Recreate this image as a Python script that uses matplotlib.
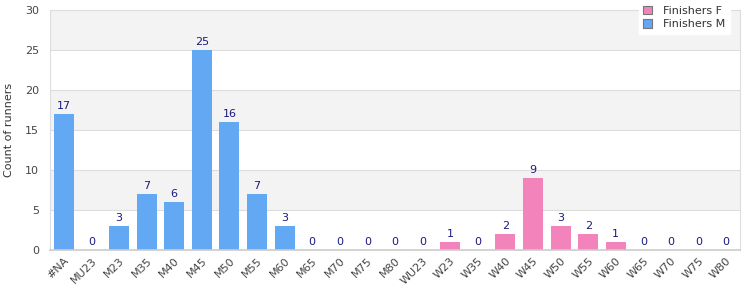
import numpy as np
import matplotlib.pyplot as plt

categories = ["#NA", "MU23", "M23", "M35", "M40", "M45", "M50", "M55", "M60",
              "M65", "M70", "M75", "M80", "WU23", "W23", "W35", "W40", "W45",
              "W50", "W55", "W60", "W65", "W70", "W75", "W80"]
finishers_m = [17, 0, 3, 7, 6, 25, 16, 7, 3, 0, 0, 0, 0, 0,
               0, 0, 0, 0, 0, 0, 0, 0, 0, 0, 0]
finishers_f = [0, 0, 0, 0, 0, 0, 0, 0, 0, 0, 0, 0, 0, 0,
               1, 0, 2, 9, 3, 2, 1, 0, 0, 0, 0]

color_m = "#62a8f3"
color_f = "#f283bb"

fig = plt.figure(figsize=(7.5, 3), dpi=100)
ax = fig.add_axes([0.0667, 0.1667, 0.92, 0.80])

x = np.arange(len(categories))
m = np.array(finishers_m)
f = np.array(finishers_f)

# alternating background bands
for lo in range(5, 30, 10):
    ax.axhspan(lo, lo + 5, color="#f3f3f3", zorder=0, lw=0)
for yv in range(5, 30, 5):
    ax.axhline(yv, color="#dddddd", lw=0.8, zorder=0.5)

ax.bar(x, m, width=0.73, color=color_m, label="Finishers M", zorder=2)
ax.bar(x, f, bottom=m, width=0.73, color=color_f, label="Finishers F", zorder=2)

totals = m + f
for xi, t in zip(x, totals):
    ax.text(xi, t + 0.4, str(t), ha="center", va="bottom", fontsize=8,
            color="#1a1a80", zorder=3)

ax.set_xlim(-0.5, len(categories) - 0.5)
ax.set_ylim(0, 30)
ax.set_yticks([0, 5, 10, 15, 20, 25, 30])
ax.set_xticks(x)
ax.set_xticklabels(categories, rotation=45, ha="right", rotation_mode="anchor",
                   fontsize=8, color="#444444")
ax.tick_params(axis="y", labelsize=8, labelcolor="#444444", length=0, pad=8)
ax.tick_params(axis="x", length=0, pad=4)
ax.set_ylabel("Count of runners", fontsize=8, color="#333333", labelpad=8)

for side in ["top", "right", "left"]:
    ax.spines[side].set_color("#dddddd")
ax.spines["bottom"].set_color("#cccccc")
ax.spines["bottom"].set_linewidth(1.2)

handles, labels = ax.get_legend_handles_labels()
leg = ax.legend(handles[::-1], labels[::-1], loc="upper right",
                bbox_to_anchor=(0.9935, 1.06), fontsize=8, frameon=True,
                fancybox=False, handlelength=0.8, handleheight=0.8,
                borderpad=0.4, labelspacing=0.3, handletextpad=1.0)
leg.get_frame().set_edgecolor("white")
leg.get_frame().set_facecolor("white")
leg.get_frame().set_alpha(1)
for h in leg.legend_handles:
    h.set_edgecolor("#777777")
    h.set_linewidth(0.8)
for t in leg.get_texts():
    t.set_color("#333333")
leg.set_zorder(5)

fig.savefig("out.png", dpi=100)
